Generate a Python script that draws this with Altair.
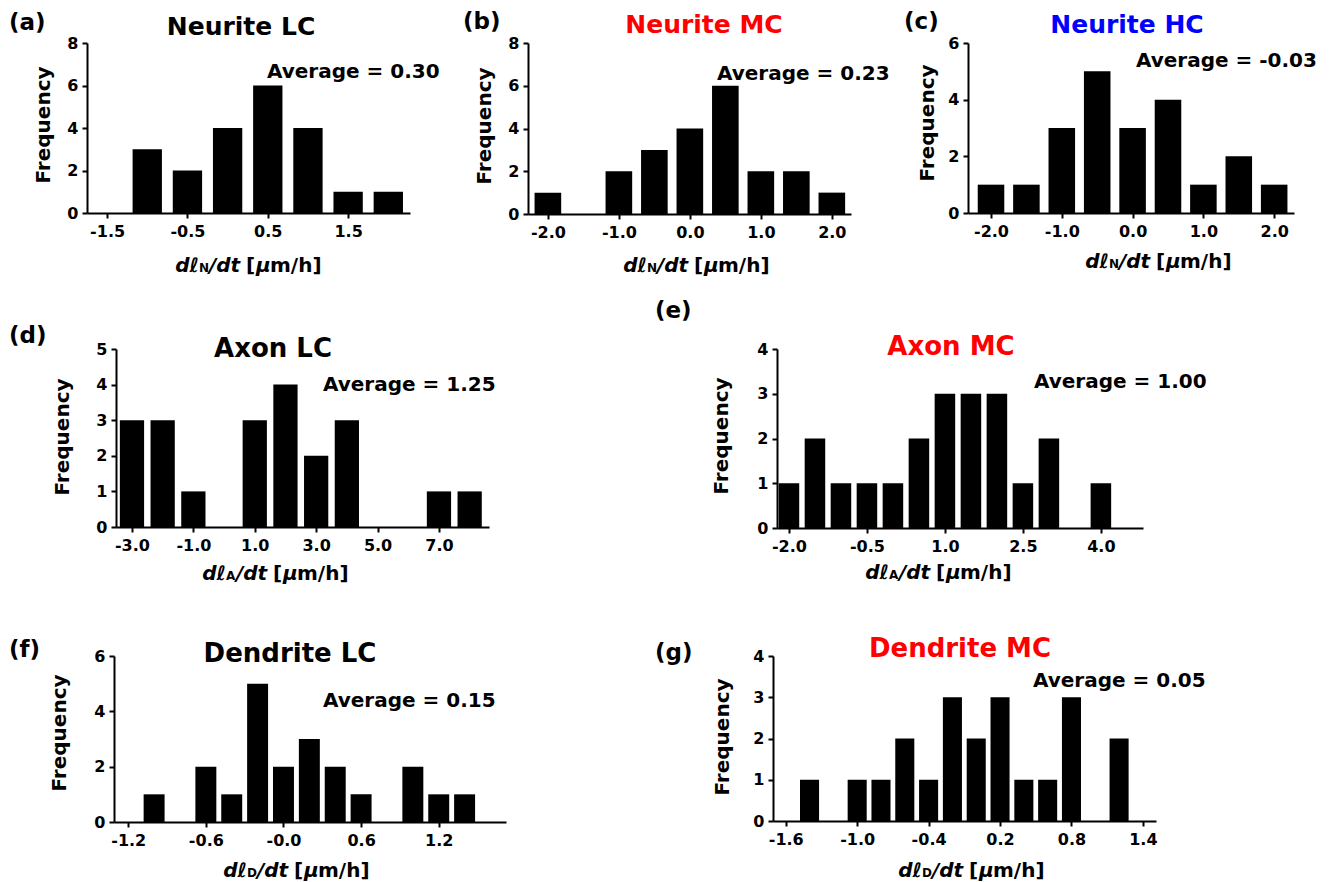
import altair as alt
import pandas as pd

FONT = "DejaVu Sans"

# ---------------- data (bin centres and frequencies) ----------------
a_bins = [-1.5, -1.0, -0.5, 0.0, 0.5, 1.0, 1.5, 2.0]
a_freq = [0, 3, 2, 4, 6, 4, 1, 1]
b_bins = [-2.0, -1.5, -1.0, -0.5, 0.0, 0.5, 1.0, 1.5, 2.0]
b_freq = [1, 0, 2, 3, 4, 6, 2, 2, 1]
c_bins = [-2.0, -1.5, -1.0, -0.5, 0.0, 0.5, 1.0, 1.5, 2.0]
c_freq = [1, 1, 3, 5, 3, 4, 1, 2, 1]
d_bins = [-3.0, -2.0, -1.0, 0.0, 1.0, 2.0, 3.0, 4.0, 5.0, 6.0, 7.0, 8.0]
d_freq = [3, 3, 1, 0, 3, 4, 2, 3, 0, 0, 1, 1]
e_bins = [-2.0, -1.5, -1.0, -0.5, 0.0, 0.5, 1.0, 1.5, 2.0, 2.5, 3.0, 3.5, 4.0]
e_freq = [1, 2, 1, 1, 1, 2, 3, 3, 3, 1, 2, 0, 1]
f_bins = [-1.2, -1.0, -0.8, -0.6, -0.4, -0.2, 0.0, 0.2, 0.4, 0.6, 0.8, 1.0, 1.2, 1.4]
f_freq = [0, 1, 0, 2, 1, 5, 2, 3, 2, 1, 0, 2, 1, 1]
g_bins = [-1.4, -1.2, -1.0, -0.8, -0.6, -0.4, -0.2, 0.0, 0.2, 0.4, 0.6, 0.8, 1.0, 1.2]
g_freq = [1, 0, 1, 1, 2, 1, 3, 2, 3, 1, 1, 3, 0, 2]

# ---------------- tick values and labels ----------------
a_xticks = [-1.5, -0.5, 0.5, 1.5]
a_xlabels = ["-1.5", "-0.5", "0.5", "1.5"]
bc_xticks = [-2.0, -1.0, 0.0, 1.0, 2.0]
bc_xlabels = ["-2.0", "-1.0", "0.0", "1.0", "2.0"]
d_xticks = [-3.0, -1.0, 1.0, 3.0, 5.0, 7.0]
d_xlabels = ["-3.0", "-1.0", "1.0", "3.0", "5.0", "7.0"]
e_xticks = [-2.0, -0.5, 1.0, 2.5, 4.0]
e_xlabels = ["-2.0", "-0.5", "1.0", "2.5", "4.0"]
f_xticks = [-1.2, -0.6, 0.0, 0.6, 1.2]
f_xlabels = ["-1.2", "-0.6", "-0.0", "0.6", "1.2"]
g_xticks = [-1.6, -1.0, -0.4, 0.2, 0.8, 1.4]
g_xlabels = ["-1.6", "-1.0", "-0.4", "0.2", "0.8", "1.4"]

y8_ticks = [0, 2, 4, 6, 8]
y6_ticks = [0, 2, 4, 6]
y5_ticks = [0, 1, 2, 3, 4, 5]
y4_ticks = [0, 1, 2, 3, 4]

# ---------------- texts ----------------
titles = ["Neurite LC", "Neurite MC", "Neurite HC", "Axon LC", "Axon MC",
          "Dendrite LC", "Dendrite MC"]
averages = ["Average = 0.30", "Average = 0.23", "Average = -0.03", "Average = 1.25",
            "Average = 1.00", "Average = 0.15", "Average = 0.05"]
panel_labels = ["(a)", "(b)", "(c)", "(d)", "(e)", "(f)", "(g)"]
subscripts = ["N", "N", "N", "A", "A", "D", "D"]

RED = "#ff0000"
BLUE = "#0000ff"


def label_expr(vals, labels):
    expr = "''"
    for v, l in reversed(list(zip(vals, labels))):
        expr = f"(abs(datum.value - ({v})) < 1e-6) ? '{l}' : ({expr})"
    return expr


def txt(s, x, y, size, color="black", style="normal", align="left",
        baseline="alphabetic", angle=0, opacity=1.0):
    return alt.Chart(alt.Data(values=[{}])).mark_text(
        text=s, font=FONT, fontSize=size, fontWeight="bold", fontStyle=style,
        color=color, align=align, baseline=baseline, angle=angle, opacity=opacity
    ).encode(x=alt.value(x), y=alt.value(y))


def xtitle(x0, y0, sub):
    return [
        txt("d\u2113", x0 + 23, y0, 20, style="italic", align="right"),
        txt(sub, x0 + 23, y0, 12),
        txt("/dt", x0 + 33, y0, 20, style="italic"),
        txt("[", x0 + 70, y0, 20),
        txt("\u03bc", x0 + 80, y0, 20, style="italic"),
        txt("m/h]", x0 + 94, y0, 20),
    ]


def panel(bins, freq, binw, frac, xdom, xticks, xlabels, ymax, yticks, w, h,
          title, tcolor, tpos, tsize, avg, apos, lab, lpos, sub, xtpos, fpos,
          anchors=None):
    df = pd.DataFrame({"c": bins, "n": freq})
    half = binw * frac / 2.0
    xaxis = alt.Axis(values=xticks, labelExpr=label_expr(xticks, xlabels), title=None,
                     grid=False, domainColor="black", domainWidth=2, tickColor="black",
                     tickWidth=2, tickSize=5, labelFont=FONT, labelFontWeight="bold",
                     labelFontSize=16, labelColor="black", labelPadding=5,
                     labelFlush=False, labelOverlap=False)
    yaxis = alt.Axis(values=yticks, format="d", title=None, grid=False,
                     domainColor="black", domainWidth=2, tickColor="black",
                     tickWidth=2, tickSize=5, labelFont=FONT, labelFontWeight="bold",
                     labelFontSize=16, labelColor="black", labelPadding=4,
                     labelFlush=False, labelOverlap=False)
    bars = alt.Chart(df).transform_filter("datum.n > 0").transform_calculate(
        x0=f"datum.c - {half}", x1=f"datum.c + {half}"
    ).mark_rect(color="black").encode(
        x=alt.X("x0:Q", scale=alt.Scale(domain=xdom, nice=False, zero=False), axis=xaxis),
        x2="x1:Q",
        y=alt.Y("n:Q", scale=alt.Scale(domain=[0, ymax], nice=False), axis=yaxis),
        y2=alt.datum(0),
    )
    layers = [bars,
              txt(title, tpos[0], tpos[1], tsize, color=tcolor, align="center"),
              txt(avg, apos[0], apos[1], 20),
              txt(lab, lpos[0], lpos[1], 23),
              txt("Frequency", fpos[0], fpos[1], 20, align="center",
                  baseline="middle", angle=270)]
    layers += xtitle(xtpos[0], xtpos[1], sub)
    if anchors:
        for ay in anchors:  # invisible layout anchors (top / bottom extent of a row)
            layers.append(txt(" ", lpos[0], ay, 10, baseline="top", opacity=0))
    return alt.layer(*layers).properties(width=w, height=h)


def spacer(w, h=1):
    return alt.Chart(alt.Data(values=[{}])).mark_point(
        opacity=0, size=1, strokeWidth=0, filled=True
    ).encode(x=alt.value(0), y=alt.value(0)).properties(width=w, height=h)


pa = panel(a_bins, a_freq, 0.5, 0.73, [-1.75, 2.27], a_xticks, a_xlabels, 8, y8_ticks,
           323, 170, titles[0], "black", (154, -8), 25, averages[0], (180, 35),
           panel_labels[0], (-78, -13), subscripts[0], (89, 229), (-43, 82),
           anchors=[-35, 230])
pb = panel(b_bins, b_freq, 0.5, 0.75, [-2.28, 2.27], bc_xticks, bc_xlabels, 8, y8_ticks,
           323, 171, titles[1], RED, (176, -10), 25, averages[1], (189, 37),
           panel_labels[1], (-65, -14), subscripts[1], (96, 229), (-43, 83))
pc = panel(c_bins, c_freq, 0.5, 0.75, [-2.325, 2.28], bc_xticks, bc_xlabels, 6, y6_ticks,
           326, 170, titles[2], BLUE, (159, -10), 25, averages[2], (168, 24),
           panel_labels[2], (-64, -14), subscripts[2], (118, 225), (-40, 80))
pd_ = panel(d_bins, d_freq, 1.0, 0.79, [-3.52, 8.63], d_xticks, d_xlabels, 5, y5_ticks,
            373, 178, titles[3], "black", (157, 8), 26, averages[3], (207, 42),
            panel_labels[3], (-107, -6), subscripts[3], (87, 231), (-53, 88),
            anchors=[-66, 230])
pe = panel(e_bins, e_freq, 0.5, 0.79, [-2.23, 4.81], e_xticks, e_xlabels, 4, y4_ticks,
           366, 179, titles[4], RED, (174, 6), 26, averages[4], (257, 39),
           panel_labels[4], (-122, -31), subscripts[4], (89, 230), (-55, 87))
pf = panel(f_bins, f_freq, 0.2, 0.81, [-1.31, 1.72], f_xticks, f_xlabels, 6, y6_ticks,
           392, 166, titles[5], "black", (176, 6), 26, averages[5], (209, 51),
           panel_labels[5], (-105, 1), subscripts[5], (110, 221), (-54, 77),
           anchors=[-67])
pg = panel(g_bins, g_freq, 0.2, 0.80, [-1.707, 1.51], g_xticks, g_xlabels, 4, y4_ticks,
           383, 165, titles[6], RED, (187, 1), 26, averages[6], (260, 31),
           panel_labels[6], (-118, 4), subscripts[6], (126, 221), (-50, 81))

row1 = alt.hconcat(spacer(78), pa, spacer(118), pb, spacer(117), pc,
                   spacing=0, bounds="flush")
row2 = alt.hconcat(spacer(107), pd_, spacer(288), pe, spacing=0, bounds="flush")
row3 = alt.hconcat(spacer(105), pf, spacer(267), pg, spacing=0, bounds="flush")

chart = alt.vconcat(row1, row2, row3, spacing=0).properties(
    padding=0).configure_view(stroke=None)

chart.save("out.html", embed_options={"renderer": "svg", "actions": False})
